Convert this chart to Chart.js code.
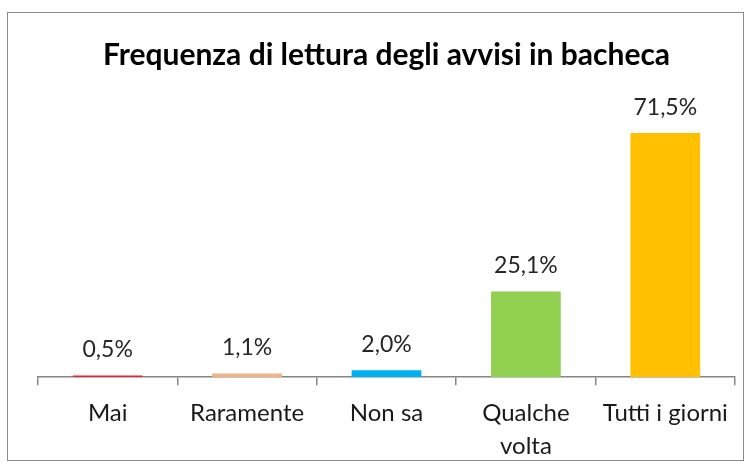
<!DOCTYPE html>
<html>
<head>
<meta charset="utf-8">
<script src="https://cdn.jsdelivr.net/npm/chart.js@4"></script>
<style>
  body { margin: 0; background: #fff; }
  #wrap { position: relative; width: 750px; height: 467px; }
  #frame { position: absolute; left: 7px; top: 12px; width: 735px; height: 447px; border: 1.5px solid #8a8a8a; pointer-events: none; }
</style>
</head>
<body>
<div id="wrap">
  <canvas id="myChart" width="750" height="467"></canvas>
  <div id="frame"></div>
</div>
<script>
// categories and values
var categories = ["Mai", "Raramente", "Non sa", ["Qualche", "volta"], "Tutti i giorni"];
var values = [0.5, 1.1, 2.0, 25.1, 71.5];
var barColors = ["#e8262a", "#f4b183", "#00b0f0", "#92d050", "#ffc000"];

// draws the "71,5%" style labels above each bar
var valueLabels = {
  id: "valueLabels",
  afterDatasetsDraw: function (chart) {
    var ctx = chart.ctx;
    var meta = chart.getDatasetMeta(0);
    ctx.save();
    ctx.font = "23px Lato";
    ctx.fillStyle = "#262626";
    ctx.textAlign = "center";
    ctx.textBaseline = "alphabetic";
    meta.data.forEach(function (bar, i) {
      var txt = values[i].toFixed(1).replace(".", ",") + "%";
      ctx.fillText(txt, bar.x, bar.y - 18);
    });
    ctx.restore();
  }
};

var ctx = document.getElementById("myChart");
var myChart = new Chart(ctx, {
  type: "bar",
  data: {
    labels: categories,
    datasets: [
      {
        data: values,
        backgroundColor: barColors,
        borderWidth: 0,
        categoryPercentage: 1,
        barPercentage: 0.5
      }
    ]
  },
  options: {
    responsive: false,
    animation: false,
    layout: { padding: { left: 38, right: 15, top: 12, bottom: -7 } },
    plugins: {
      legend: false,
      tooltip: { enabled: false },
      title: {
        display: true,
        text: "Frequenza di lettura degli avvisi in bacheca",
        color: "#000",
        font: { family: "Lato", size: 30, weight: "bold", lineHeight: 1.2 },
        padding: { top: 25, bottom: 31 }
      }
    },
    scales: {
      y: {
        display: false,
        min: 0,
        max: 80
      },
      x: {
        grid: {
          offset: true,
          drawOnChartArea: false,
          drawTicks: true,
          tickLength: 8,
          color: "#868686",
          lineWidth: 1.5
        },
        border: { display: true, color: "#868686", width: 1.5 },
        ticks: {
          color: "#1a1a1a",
          padding: 12,
          maxRotation: 0,
          font: { family: "Lato", size: 24, lineHeight: 1.35 }
        }
      }
    }
  },
  plugins: [valueLabels]
});
</script>
</body>
</html>
